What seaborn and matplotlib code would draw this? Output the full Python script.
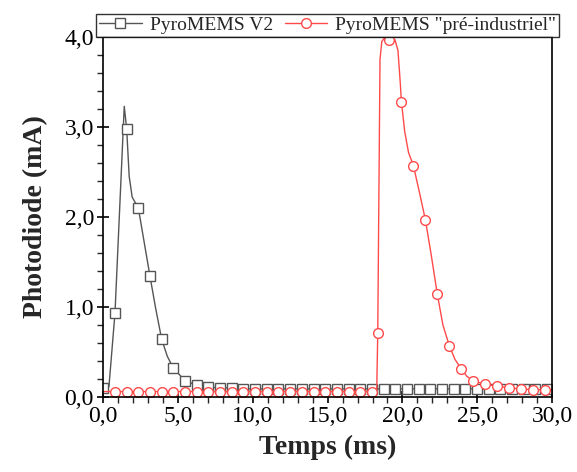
import matplotlib
matplotlib.use('Agg')
import matplotlib.pyplot as plt
import seaborn as sns
import pandas as pd
from matplotlib.ticker import MultipleLocator, FuncFormatter

# PyroMEMS V2 (noir) - courbe + points marqués
t_v2 = [0.02, 0.30, 0.40, 0.80, 1.42, 1.58, 1.75, 1.95, 2.36, 2.75, 3.14, 3.50, 3.92, 4.30,
        4.70, 5.48, 6.26, 7.04, 7.82, 8.60, 9.38, 10.16, 10.94, 11.72, 12.50, 13.28, 14.06,
        14.84, 15.62, 16.40, 17.18, 17.96, 18.74, 19.52, 20.30, 21.08, 21.86, 22.64, 23.42,
        24.20, 24.98, 25.76, 26.54, 27.32, 28.10, 28.88, 29.66]
i_v2 = [0.10, 0.08, 0.12, 0.93, 3.23, 2.98, 2.45, 2.22, 2.10, 1.72, 1.34, 1.00, 0.64, 0.45,
        0.32, 0.18, 0.13, 0.11, 0.10, 0.10, 0.09, 0.09, 0.09, 0.09, 0.09, 0.09, 0.09,
        0.09, 0.09, 0.09, 0.09, 0.09, 0.09, 0.09, 0.09, 0.09, 0.09, 0.09, 0.09,
        0.09, 0.09, 0.09, 0.09, 0.09, 0.09, 0.09, 0.09]
pts_v2 = [0.02, 0.80, 1.58, 2.36, 3.14, 3.92, 4.70, 5.48, 6.26, 7.04, 7.82, 8.60, 9.38, 10.16,
          10.94, 11.72, 12.50, 13.28, 14.06, 14.84, 15.62, 16.40, 17.18, 17.96, 18.74, 19.52,
          20.30, 21.08, 21.86, 22.64, 23.42, 24.20, 24.98, 25.76, 26.54, 27.32, 28.10, 28.88, 29.66]

# PyroMEMS "pré-industriel" (rouge)
t_pi = [0.00, 0.80, 1.58, 2.36, 3.14, 3.92, 4.70, 5.48, 6.26, 7.04, 7.82, 8.60, 9.38, 10.16,
        10.94, 11.72, 12.50, 13.28, 14.06, 14.84, 15.62, 16.40, 17.18, 17.96, 18.28, 18.35,
        18.50, 18.62, 18.80, 19.13, 19.50, 19.70, 19.85, 19.93, 20.15, 20.40, 20.73, 21.10,
        21.53, 21.90, 22.33, 22.70, 23.13, 23.50, 23.93, 24.30, 24.73, 25.53, 26.33, 27.13,
        27.93, 28.73, 29.53, 30.00]
i_pi = [0.06, 0.06, 0.06, 0.06, 0.06, 0.06, 0.06, 0.06, 0.06, 0.06, 0.06, 0.06, 0.06, 0.06,
        0.06, 0.06, 0.06, 0.06, 0.06, 0.06, 0.06, 0.06, 0.06, 0.06, 0.06, 0.71,
        3.75, 3.95, 3.99, 3.97, 3.97, 3.85, 3.50, 3.28, 2.95, 2.72, 2.57, 2.30,
        1.97, 1.60, 1.14, 0.80, 0.57, 0.42, 0.31, 0.23, 0.18, 0.14, 0.12, 0.10,
        0.09, 0.08, 0.08, 0.08]
pts_pi = [0.80, 1.58, 2.36, 3.14, 3.92, 4.70, 5.48, 6.26, 7.04, 7.82, 8.60, 9.38, 10.16,
          10.94, 11.72, 12.50, 13.28, 14.06, 14.84, 15.62, 16.40, 17.18, 17.96, 18.35,
          19.13, 19.93, 20.73, 21.53, 22.33, 23.13, 23.93, 24.73, 25.53, 26.33, 27.13,
          27.93, 28.73, 29.53]

sns.set_style('ticks')
plt.rcParams['font.family'] = ['Liberation Serif', 'DejaVu Serif']

fig = plt.figure(figsize=(5.77, 4.72), dpi=100)
ax = fig.add_axes([0.1785, 0.159, 0.7785, 0.7626])

df_v2 = pd.DataFrame({'t': t_v2, 'i': i_v2})
df_pi = pd.DataFrame({'t': t_pi, 'i': i_pi})

sns.lineplot(data=df_v2, x='t', y='i', ax=ax, sort=False, estimator=None,
             color='#555555', lw=1.0, marker='s', markersize=6.5,
             markerfacecolor='white', markeredgecolor='#555555', markeredgewidth=1.0,
             markevery=[t_v2.index(p) for p in pts_v2], label='PyroMEMS V2')
sns.lineplot(data=df_pi, x='t', y='i', ax=ax, sort=False, estimator=None,
             color='#ff4a4a', lw=1.0, marker='o', markersize=7,
             markerfacecolor='white', markeredgecolor='#ff4a4a', markeredgewidth=1.0,
             markevery=[t_pi.index(p) for p in pts_pi], label='PyroMEMS "pré-industriel"')

ax.set_xlim(0, 30)
ax.set_ylim(0, 4)
ax.xaxis.set_major_locator(MultipleLocator(5))
ax.xaxis.set_minor_locator(MultipleLocator(1))
ax.yaxis.set_major_locator(MultipleLocator(1))
ax.yaxis.set_minor_locator(MultipleLocator(0.2))
virgule = FuncFormatter(lambda v, p: f'{v:.1f}'.replace('.', ','))
ax.xaxis.set_major_formatter(virgule)
ax.yaxis.set_major_formatter(virgule)

ax.tick_params(which='major', direction='inout', length=9, width=1.2, labelsize=17, pad=2,
               colors='black')
ax.tick_params(which='minor', direction='out', length=4, width=1.0)
for s in ax.spines.values():
    s.set_visible(True)
    s.set_linewidth(1.2)
    s.set_color('black')

ax.set_xlabel('Temps (ms)', fontsize=20, fontweight='bold', labelpad=6)
ax.set_ylabel('Photodiode (mA)', fontsize=20, fontweight='bold', labelpad=12)

leg = ax.legend(loc='lower center', bbox_to_anchor=(0.5, 1.0), ncol=2, fontsize=14,
                frameon=True, fancybox=False, edgecolor='black', borderaxespad=0,
                handlelength=2.2, handletextpad=0.4, columnspacing=0.6, borderpad=0.15)
leg.get_frame().set_linewidth(1.0)

fig.savefig('out.png', dpi=100)
